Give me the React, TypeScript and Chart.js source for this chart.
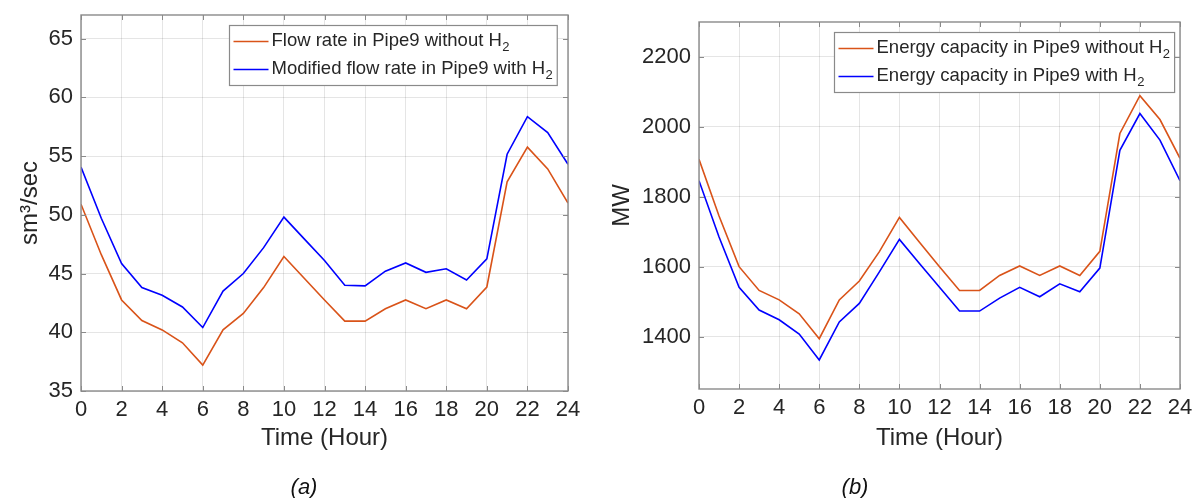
import React, { useEffect, useRef } from "react";
import { Chart, registerables } from "chart.js";

Chart.register(...registerables);

// ---------------- data ----------------
const hours = [0, 1, 2, 3, 4, 5, 6, 7, 8, 9, 10, 11, 12, 13, 14, 15, 16, 17, 18, 19, 20, 21, 22, 23, 24];

const flowWithoutH2 = [50.9, 46.6, 42.75, 41.0, 40.2, 39.1, 37.2, 40.2, 41.6, 43.8, 46.45, 44.6, 42.75, 40.95, 40.95, 42.0, 42.75, 42.0, 42.75, 42.0, 43.85, 52.8, 55.75, 53.9, 51.0];
const flowWithH2 = [54.05, 49.7, 45.85, 43.8, 43.15, 42.15, 40.4, 43.5, 45.0, 47.2, 49.8, 47.95, 46.1, 44.0, 43.95, 45.2, 45.9, 45.1, 45.4, 44.45, 46.25, 55.15, 58.35, 57.0, 54.3];

const energyWithoutH2 = [1907, 1745, 1600, 1532, 1505, 1465, 1394, 1505, 1559, 1643, 1741, 1670, 1600, 1532, 1532, 1575, 1602, 1575, 1602, 1575, 1644, 1981, 2089, 2021, 1910];
const energyWithH2 = [1846, 1685, 1541, 1476, 1448, 1407, 1333, 1442, 1495, 1585, 1678, 1609, 1541, 1473, 1473, 1510, 1541, 1514, 1551, 1528, 1596, 1933, 2038, 1962, 1846];

const xTicks = [0, 2, 4, 6, 8, 10, 12, 14, 16, 18, 20, 22, 24];
const flowTicks = [35, 40, 45, 50, 55, 60, 65];
const energyTicks = [1400, 1600, 1800, 2000, 2200];

const flowLabels = ["Flow rate in Pipe9 without H₂", "Modified flow rate in Pipe9 with H₂"];
const energyLabels = ["Energy capacity in Pipe9 without H₂", "Energy capacity in Pipe9 with H₂"];

const xTitle = "Time (Hour)";
const flowYTitle = "sm³/sec";
const energyYTitle = "MW";
const captions = ["(a)", "(b)"];

// ---------------- styles ----------------
const FONT = "'Liberation Sans', Arial, Helvetica, sans-serif";
const TEXT = "#262626";
const FRAME = "#8a8a8a";
const GRID = "rgba(38,38,38,0.12)";
const ORANGE = "#D95319";
const BLUE = "#0000FF";

const matlabPlugin = {
  id: "matlabFrame",
  afterDraw(chart: any, _args: any, opts: any) {
    const { ctx, chartArea } = chart;
    const { left, right, top, bottom } = chartArea;
    ctx.save();
    // inward ticks
    ctx.strokeStyle = FRAME;
    ctx.lineWidth = 1;
    const tl = 5;
    const xs = chart.scales.x;
    const ys = chart.scales.y;
    ctx.beginPath();
    xs.ticks.forEach((t: any) => {
      const px = Math.round(xs.getPixelForValue(t.value)) + 0.5;
      ctx.moveTo(px, bottom);
      ctx.lineTo(px, bottom - tl);
      ctx.moveTo(px, top);
      ctx.lineTo(px, top + tl);
    });
    ys.ticks.forEach((t: any) => {
      const py = Math.round(ys.getPixelForValue(t.value)) + 0.5;
      ctx.moveTo(left, py);
      ctx.lineTo(left + tl, py);
      ctx.moveTo(right, py);
      ctx.lineTo(right - tl, py);
    });
    ctx.stroke();
    // frame
    ctx.lineWidth = 1.4;
    ctx.strokeRect(left, top, right - left, bottom - top);

    // legend
    const fontSize = opts.fontSize || 18;
    const subSize = Math.round(fontSize * 0.72);
    const datasets = chart.data.datasets;
    const measure = (label: string) => {
      const parts = label.split("₂");
      ctx.font = `${fontSize}px ${FONT}`;
      let w = ctx.measureText(parts[0]).width;
      if (parts.length > 1) {
        ctx.font = `${subSize}px ${FONT}`;
        w += ctx.measureText("2").width;
      }
      return w;
    };
    const maxW = Math.max(...datasets.map((d: any) => measure(d.label)));
    const textOffset = 42;
    const boxW = textOffset + maxW + 5;
    const boxH = 60;
    const bx = Math.round(right - opts.legendRight - boxW) + 0.5;
    const by = Math.round(top + opts.legendTop) + 0.5;
    ctx.fillStyle = "#ffffff";
    ctx.fillRect(bx, by, boxW, boxH);
    ctx.strokeStyle = FRAME;
    ctx.lineWidth = 1.2;
    ctx.strokeRect(bx, by, boxW, boxH);
    const rows = [16, 44];
    datasets.forEach((d: any, i: number) => {
      const ly = by + rows[i];
      ctx.strokeStyle = d.borderColor;
      ctx.lineWidth = 1.6;
      ctx.beginPath();
      ctx.moveTo(bx + 4, ly);
      ctx.lineTo(bx + 39, ly);
      ctx.stroke();
      const parts = d.label.split("₂");
      ctx.fillStyle = TEXT;
      ctx.textBaseline = "alphabetic";
      ctx.textAlign = "left";
      ctx.font = `${fontSize}px ${FONT}`;
      const tx = bx + textOffset;
      const ty = ly + 4;
      ctx.fillText(parts[0], tx, ty);
      if (parts.length > 1) {
        const w0 = ctx.measureText(parts[0]).width;
        ctx.font = `${subSize}px ${FONT}`;
        ctx.fillText("2", tx + w0 + 0.5, ty + 5);
      }
    });
    ctx.restore();
  },
};

type PanelProps = {
  width: number;
  height: number;
  series: number[][];
  labels: string[];
  yTicks: number[];
  yMin: number;
  yMax: number;
  yTitle: string;
  yScaleWidth: number;
  yTitlePad: number;
  xScaleHeight: number;
  padding: { left: number; right: number; top: number; bottom: number };
  legendRight: number;
  legendTop: number;
};

function Panel(p: PanelProps) {
  const ref = useRef<HTMLCanvasElement | null>(null);
  useEffect(() => {
    if (!ref.current) return;
    const tickFont = { family: FONT, size: 22 };
    const titleFont = { family: FONT, size: 24 };
    const chart = new Chart(ref.current, {
      type: "line",
      data: {
        datasets: p.series.map((s, i) => ({
          label: p.labels[i],
          data: hours.map((h, j) => ({ x: h, y: s[j] })),
          borderColor: i === 0 ? ORANGE : BLUE,
          backgroundColor: i === 0 ? ORANGE : BLUE,
          borderWidth: 1.6,
          pointRadius: 0,
          tension: 0,
          fill: false,
        })),
      },
      options: {
        animation: false,
        responsive: false,
        events: [],
        layout: { padding: p.padding },
        plugins: {
          legend: { display: false },
          tooltip: { enabled: false },
          matlabFrame: { legendRight: p.legendRight, legendTop: p.legendTop, fontSize: 18.5 },
        } as any,
        scales: {
          x: {
            type: "linear",
            min: 0,
            max: 24,
            afterBuildTicks: (s: any) => {
              s.ticks = xTicks.map((v) => ({ value: v }));
            },
            afterFit: (s: any) => {
              s.height = p.xScaleHeight;
              s.paddingLeft = 0;
              s.paddingRight = 0;
            },
            ticks: {
              font: tickFont,
              color: TEXT,
              padding: 6,
              maxRotation: 0,
              autoSkip: false,
              callback: (v: any) => String(v),
            },
            grid: { color: GRID, drawTicks: false, lineWidth: 1 },
            border: { display: false },
            title: { display: true, text: xTitle, font: titleFont, color: TEXT, padding: 0 },
          },
          y: {
            type: "linear",
            min: p.yMin,
            max: p.yMax,
            afterBuildTicks: (s: any) => {
              s.ticks = p.yTicks.map((v) => ({ value: v }));
            },
            afterFit: (s: any) => {
              s.width = p.yScaleWidth;
              s.paddingTop = 0;
              s.paddingBottom = 0;
            },
            ticks: { font: tickFont, color: TEXT, padding: 8, callback: (v: any) => String(v) },
            grid: { color: GRID, drawTicks: false, lineWidth: 1 },
            border: { display: false },
            title: {
              display: true,
              text: p.yTitle,
              font: titleFont,
              color: TEXT,
              padding: { top: p.yTitlePad, bottom: 0 },
            },
          },
        },
      },
      plugins: [matlabPlugin as any],
    });
    return () => chart.destroy();
  }, []);
  return <canvas ref={ref} width={p.width} height={p.height} style={{ display: "block" }} />;
}

export default function App() {
  useEffect(() => {
    document.body.style.margin = "0";
    document.body.style.background = "#ffffff";
  }, []);
  const captionStyle: React.CSSProperties = {
    position: "absolute",
    top: 474,
    fontFamily: FONT,
    fontStyle: "italic",
    fontSize: 22,
    color: "#111",
    transform: "translateX(-50%)",
    lineHeight: "26px",
  };
  return (
    <div style={{ position: "relative", width: 1193, height: 498, background: "#fff", overflow: "hidden" }}>
      <div style={{ position: "absolute", left: 0, top: 0 }}>
        <Panel
          width={600}
          height={498}
          series={[flowWithoutH2, flowWithH2]}
          labels={flowLabels}
          yTicks={flowTicks}
          yMin={35}
          yMax={67}
          yTitle={flowYTitle}
          yScaleWidth={81}
          yTitlePad={16}
          xScaleHeight={62}
          padding={{ left: 0, right: 32, top: 15, bottom: 45 }}
          legendRight={11}
          legendTop={10}
        />
      </div>
      <div style={{ position: "absolute", left: 600, top: 0 }}>
        <Panel
          width={593}
          height={498}
          series={[energyWithoutH2, energyWithH2]}
          labels={energyLabels}
          yTicks={energyTicks}
          yMin={1250}
          yMax={2300}
          yTitle={energyYTitle}
          yScaleWidth={99}
          yTitlePad={8}
          xScaleHeight={64}
          padding={{ left: 0, right: 13, top: 22, bottom: 45 }}
          legendRight={6}
          legendTop={10}
        />
      </div>
      <div style={{ ...captionStyle, left: 304 }}>{captions[0]}</div>
      <div style={{ ...captionStyle, left: 855 }}>{captions[1]}</div>
    </div>
  );
}
